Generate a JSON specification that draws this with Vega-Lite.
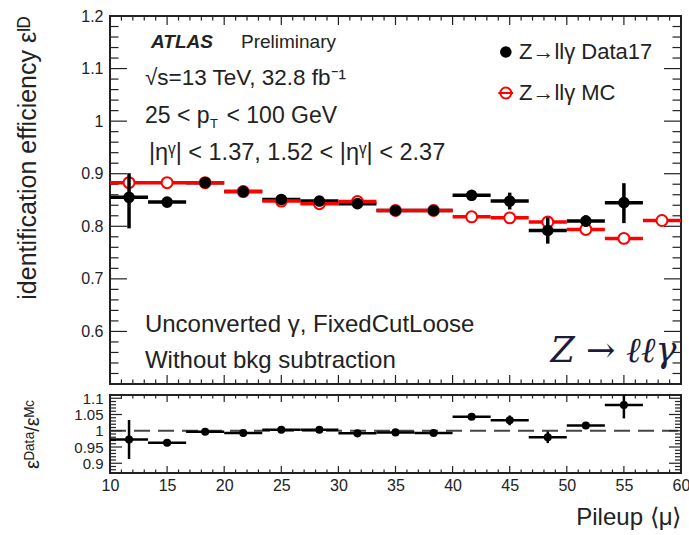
{
  "$schema": "https://vega.github.io/schema/vega-lite/v6.json",
  "padding": {"left": 14, "top": 7, "right": 8, "bottom": 4},
  "background": "white",
  "bounds": "flush",
  "spacing": 11,
  "config": {
    "view": {"stroke": "#222", "strokeWidth": 2},
    "font": "Liberation Sans",
    "axis": {"minExtent": 0, "domain": false, "grid": false, "labelFlush": false, "labelOverlap": false, "labelColor": "#222", "titleColor": "#222", "labelFont": "Liberation Sans", "titleFont": "Liberation Sans", "titleFontWeight": "normal"}
  },
  "datasets": {
    "data17": [
      {"mu": 11.667, "lo": 10, "hi": 13.333, "eff": 0.855, "elo": 0.796, "ehi": 0.901},
      {"mu": 15, "lo": 13.333, "hi": 16.667, "eff": 0.846, "elo": 0.839, "ehi": 0.853},
      {"mu": 18.333, "lo": 16.667, "hi": 20, "eff": 0.883, "elo": 0.877, "ehi": 0.889},
      {"mu": 21.667, "lo": 20, "hi": 23.333, "eff": 0.866, "elo": 0.86, "ehi": 0.872},
      {"mu": 25, "lo": 23.333, "hi": 26.667, "eff": 0.851, "elo": 0.845, "ehi": 0.857},
      {"mu": 28.333, "lo": 26.667, "hi": 30, "eff": 0.848, "elo": 0.842, "ehi": 0.854},
      {"mu": 31.667, "lo": 30, "hi": 33.333, "eff": 0.843, "elo": 0.837, "ehi": 0.849},
      {"mu": 35, "lo": 33.333, "hi": 36.667, "eff": 0.83, "elo": 0.824, "ehi": 0.836},
      {"mu": 38.333, "lo": 36.667, "hi": 40, "eff": 0.83, "elo": 0.823, "ehi": 0.837},
      {"mu": 41.667, "lo": 40, "hi": 43.333, "eff": 0.859, "elo": 0.849, "ehi": 0.869},
      {"mu": 45, "lo": 43.333, "hi": 46.667, "eff": 0.848, "elo": 0.832, "ehi": 0.864},
      {"mu": 48.333, "lo": 46.667, "hi": 50, "eff": 0.792, "elo": 0.767, "ehi": 0.817},
      {"mu": 51.667, "lo": 50, "hi": 53.333, "eff": 0.81, "elo": 0.799, "ehi": 0.821},
      {"mu": 55, "lo": 53.333, "hi": 56.667, "eff": 0.845, "elo": 0.806, "ehi": 0.882}
    ],
    "mc": [
      {"mu": 11.667, "lo": 10, "hi": 13.333, "eff": 0.883},
      {"mu": 15, "lo": 13.333, "hi": 16.667, "eff": 0.883},
      {"mu": 18.333, "lo": 16.667, "hi": 20, "eff": 0.883},
      {"mu": 21.667, "lo": 20, "hi": 23.333, "eff": 0.866},
      {"mu": 25, "lo": 23.333, "hi": 26.667, "eff": 0.848},
      {"mu": 28.333, "lo": 26.667, "hi": 30, "eff": 0.843},
      {"mu": 31.667, "lo": 30, "hi": 33.333, "eff": 0.847},
      {"mu": 35, "lo": 33.333, "hi": 36.667, "eff": 0.83},
      {"mu": 38.333, "lo": 36.667, "hi": 40, "eff": 0.83},
      {"mu": 41.667, "lo": 40, "hi": 43.333, "eff": 0.818},
      {"mu": 45, "lo": 43.333, "hi": 46.667, "eff": 0.816},
      {"mu": 48.333, "lo": 46.667, "hi": 50, "eff": 0.808},
      {"mu": 51.667, "lo": 50, "hi": 53.333, "eff": 0.794},
      {"mu": 55, "lo": 53.333, "hi": 56.667, "eff": 0.777},
      {"mu": 58.333, "lo": 56.667, "hi": 60, "eff": 0.811}
    ],
    "ratio": [
      {"mu": 11.667, "lo": 10, "hi": 13.333, "r": 0.973, "rlo": 0.913, "rhi": 1.033},
      {"mu": 15, "lo": 13.333, "hi": 16.667, "r": 0.963, "rlo": 0.958, "rhi": 0.968},
      {"mu": 18.333, "lo": 16.667, "hi": 20, "r": 0.997, "rlo": 0.992, "rhi": 1.002},
      {"mu": 21.667, "lo": 20, "hi": 23.333, "r": 0.993, "rlo": 0.988, "rhi": 0.998},
      {"mu": 25, "lo": 23.333, "hi": 26.667, "r": 1.003, "rlo": 0.998, "rhi": 1.008},
      {"mu": 28.333, "lo": 26.667, "hi": 30, "r": 1.003, "rlo": 0.998, "rhi": 1.008},
      {"mu": 31.667, "lo": 30, "hi": 33.333, "r": 0.992, "rlo": 0.987, "rhi": 0.997},
      {"mu": 35, "lo": 33.333, "hi": 36.667, "r": 0.995, "rlo": 0.99, "rhi": 1.0},
      {"mu": 38.333, "lo": 36.667, "hi": 40, "r": 0.993, "rlo": 0.988, "rhi": 0.998},
      {"mu": 41.667, "lo": 40, "hi": 43.333, "r": 1.043, "rlo": 1.035, "rhi": 1.051},
      {"mu": 45, "lo": 43.333, "hi": 46.667, "r": 1.032, "rlo": 1.017, "rhi": 1.047},
      {"mu": 48.333, "lo": 46.667, "hi": 50, "r": 0.98, "rlo": 0.962, "rhi": 0.998},
      {"mu": 51.667, "lo": 50, "hi": 53.333, "r": 1.016, "rlo": 1.006, "rhi": 1.026},
      {"mu": 55, "lo": 53.333, "hi": 56.667, "r": 1.079, "rlo": 1.038, "rhi": 1.11}
    ],
    "xmajor": [{"v": 10}, {"v": 15}, {"v": 20}, {"v": 25}, {"v": 30}, {"v": 35}, {"v": 40}, {"v": 45}, {"v": 50}, {"v": 55}, {"v": 60}],
    "xminor": [{"v": 11}, {"v": 12}, {"v": 13}, {"v": 14}, {"v": 16}, {"v": 17}, {"v": 18}, {"v": 19}, {"v": 21}, {"v": 22}, {"v": 23}, {"v": 24}, {"v": 26}, {"v": 27}, {"v": 28}, {"v": 29}, {"v": 31}, {"v": 32}, {"v": 33}, {"v": 34}, {"v": 36}, {"v": 37}, {"v": 38}, {"v": 39}, {"v": 41}, {"v": 42}, {"v": 43}, {"v": 44}, {"v": 46}, {"v": 47}, {"v": 48}, {"v": 49}, {"v": 51}, {"v": 52}, {"v": 53}, {"v": 54}, {"v": 56}, {"v": 57}, {"v": 58}, {"v": 59}],
    "ymajor": [{"v": 0.6}, {"v": 0.7}, {"v": 0.8}, {"v": 0.9}, {"v": 1.0}, {"v": 1.1}],
    "yminor": [{"v": 0.52}, {"v": 0.54}, {"v": 0.56}, {"v": 0.58}, {"v": 0.62}, {"v": 0.64}, {"v": 0.66}, {"v": 0.68}, {"v": 0.72}, {"v": 0.74}, {"v": 0.76}, {"v": 0.78}, {"v": 0.82}, {"v": 0.84}, {"v": 0.86}, {"v": 0.88}, {"v": 0.92}, {"v": 0.94}, {"v": 0.96}, {"v": 0.98}, {"v": 1.02}, {"v": 1.04}, {"v": 1.06}, {"v": 1.08}, {"v": 1.12}, {"v": 1.14}, {"v": 1.16}, {"v": 1.18}],
    "rmajor": [{"v": 0.9}, {"v": 0.95}, {"v": 1.0}, {"v": 1.05}, {"v": 1.1}],
    "rminor": [{"v": 0.88}, {"v": 0.89}, {"v": 0.91}, {"v": 0.92}, {"v": 0.93}, {"v": 0.94}, {"v": 0.96}, {"v": 0.97}, {"v": 0.98}, {"v": 0.99}, {"v": 1.01}, {"v": 1.02}, {"v": 1.03}, {"v": 1.04}, {"v": 1.06}, {"v": 1.07}, {"v": 1.08}, {"v": 1.09}]
  },
  "vconcat": [
    {
      "width": 571,
      "height": 368,
      "resolve": {"axis": {"x": "independent", "y": "independent"}},
      "layer": [
        {
          "data": {"name": "data17"},
          "mark": {"type": "rule", "color": "black", "strokeWidth": 3.5},
          "encoding": {
            "x": {"field": "lo", "type": "quantitative", "scale": {"domain": [10, 60], "nice": false, "zero": false}, "axis": null},
            "x2": {"field": "hi"},
            "y": {"field": "eff", "type": "quantitative", "scale": {"domain": [0.5, 1.2], "nice": false, "zero": false},
              "axis": {"orient": "left", "values": [0.6, 0.7, 0.8, 0.9, 1, 1.1, 1.2], "format": "~g", "ticks": false, "labelFontSize": 16, "labelPadding": 7, "title": "identification efficiency εᴵᴰ", "titleFontSize": 25, "titleAnchor": "end", "titlePadding": 40}}
          }
        },
        {
          "data": {"name": "xmajor"},
          "mark": {"type": "rule", "color": "#222", "strokeWidth": 1.2},
          "encoding": {
            "x": {"field": "v", "type": "quantitative", "scale": {"domain": [10, 60], "nice": false, "zero": false}, "axis": null},
            "y": {"datum": 0.5, "type": "quantitative", "scale": {"domain": [0.5, 1.2], "nice": false, "zero": false}, "axis": null},
            "y2": {"datum": 0.5171}
          }
        },
        {
          "data": {"name": "xminor"},
          "mark": {"type": "rule", "color": "#222", "strokeWidth": 1.2},
          "encoding": {
            "x": {"field": "v", "type": "quantitative", "scale": {"domain": [10, 60], "nice": false, "zero": false}, "axis": null},
            "y": {"datum": 0.5, "type": "quantitative", "scale": {"domain": [0.5, 1.2], "nice": false, "zero": false}, "axis": null},
            "y2": {"datum": 0.5086}
          }
        },
        {
          "data": {"name": "xmajor"},
          "mark": {"type": "rule", "color": "#222", "strokeWidth": 1.2},
          "encoding": {
            "x": {"field": "v", "type": "quantitative", "scale": {"domain": [10, 60], "nice": false, "zero": false}, "axis": null},
            "y": {"datum": 1.2, "type": "quantitative", "scale": {"domain": [0.5, 1.2], "nice": false, "zero": false}, "axis": null},
            "y2": {"datum": 1.1829}
          }
        },
        {
          "data": {"name": "xminor"},
          "mark": {"type": "rule", "color": "#222", "strokeWidth": 1.2},
          "encoding": {
            "x": {"field": "v", "type": "quantitative", "scale": {"domain": [10, 60], "nice": false, "zero": false}, "axis": null},
            "y": {"datum": 1.2, "type": "quantitative", "scale": {"domain": [0.5, 1.2], "nice": false, "zero": false}, "axis": null},
            "y2": {"datum": 1.1914}
          }
        },
        {
          "data": {"name": "ymajor"},
          "mark": {"type": "rule", "color": "#222", "strokeWidth": 1.2},
          "encoding": {
            "y": {"field": "v", "type": "quantitative", "scale": {"domain": [0.5, 1.2], "nice": false, "zero": false}, "axis": null},
            "x": {"datum": 10, "type": "quantitative", "scale": {"domain": [10, 60], "nice": false, "zero": false}, "axis": null},
            "x2": {"datum": 11.489}
          }
        },
        {
          "data": {"name": "yminor"},
          "mark": {"type": "rule", "color": "#222", "strokeWidth": 1.2},
          "encoding": {
            "y": {"field": "v", "type": "quantitative", "scale": {"domain": [0.5, 1.2], "nice": false, "zero": false}, "axis": null},
            "x": {"datum": 10, "type": "quantitative", "scale": {"domain": [10, 60], "nice": false, "zero": false}, "axis": null},
            "x2": {"datum": 10.744}
          }
        },
        {
          "data": {"name": "ymajor"},
          "mark": {"type": "rule", "color": "#222", "strokeWidth": 1.2},
          "encoding": {
            "y": {"field": "v", "type": "quantitative", "scale": {"domain": [0.5, 1.2], "nice": false, "zero": false}, "axis": null},
            "x": {"datum": 60, "type": "quantitative", "scale": {"domain": [10, 60], "nice": false, "zero": false}, "axis": null},
            "x2": {"datum": 58.511}
          }
        },
        {
          "data": {"name": "yminor"},
          "mark": {"type": "rule", "color": "#222", "strokeWidth": 1.2},
          "encoding": {
            "y": {"field": "v", "type": "quantitative", "scale": {"domain": [0.5, 1.2], "nice": false, "zero": false}, "axis": null},
            "x": {"datum": 60, "type": "quantitative", "scale": {"domain": [10, 60], "nice": false, "zero": false}, "axis": null},
            "x2": {"datum": 59.256}
          }
        },
        {
          "data": {"name": "mc"},
          "mark": {"type": "rule", "color": "#ff0000", "strokeWidth": 3.5},
          "encoding": {
            "x": {"field": "lo", "type": "quantitative", "scale": {"domain": [10, 60], "nice": false, "zero": false}, "axis": null},
            "x2": {"field": "hi"},
            "y": {"field": "eff", "type": "quantitative", "scale": {"domain": [0.5, 1.2], "nice": false, "zero": false}, "axis": null}
          }
        },
        {
          "data": {"name": "mc"},
          "mark": {"type": "point", "shape": "circle", "filled": true, "fill": "white", "stroke": "#ff0000", "strokeWidth": 2, "size": 120, "opacity": 1},
          "encoding": {
            "x": {"field": "mu", "type": "quantitative", "scale": {"domain": [10, 60], "nice": false, "zero": false}, "axis": null},
            "y": {"field": "eff", "type": "quantitative", "scale": {"domain": [0.5, 1.2], "nice": false, "zero": false}, "axis": null}
          }
        },
        {
          "data": {"name": "data17"},
          "mark": {"type": "rule", "color": "black", "strokeWidth": 3.5},
          "encoding": {
            "x": {"field": "mu", "type": "quantitative", "scale": {"domain": [10, 60], "nice": false, "zero": false}, "axis": null},
            "y": {"field": "elo", "type": "quantitative", "scale": {"domain": [0.5, 1.2], "nice": false, "zero": false}, "axis": null},
            "y2": {"field": "ehi"}
          }
        },
        {
          "data": {"name": "data17"},
          "mark": {"type": "point", "shape": "circle", "filled": true, "color": "black", "size": 135, "opacity": 1},
          "encoding": {
            "x": {"field": "mu", "type": "quantitative", "scale": {"domain": [10, 60], "nice": false, "zero": false}, "axis": null},
            "y": {"field": "eff", "type": "quantitative", "scale": {"domain": [0.5, 1.2], "nice": false, "zero": false}, "axis": null}
          }
        },
        {
          "data": {"values": [{}]},
          "mark": {"type": "text", "text": "ATLAS", "font": "Liberation Sans", "fontSize": 19, "fontStyle": "italic", "fontWeight": "bold", "align": "left", "baseline": "middle", "color": "#222"},
          "encoding": {
            "x": {"datum": 13.59, "type": "quantitative", "scale": {"domain": [10, 60], "nice": false, "zero": false}, "axis": null},
            "y": {"datum": 1.1505, "type": "quantitative", "scale": {"domain": [0.5, 1.2], "nice": false, "zero": false}, "axis": null}
          }
        },
        {
          "data": {"values": [{}]},
          "mark": {"type": "text", "text": "Preliminary", "font": "Liberation Sans", "fontSize": 19, "align": "left", "baseline": "middle", "color": "#222"},
          "encoding": {
            "x": {"datum": 21.47, "type": "quantitative", "scale": {"domain": [10, 60], "nice": false, "zero": false}, "axis": null},
            "y": {"datum": 1.1505, "type": "quantitative", "scale": {"domain": [0.5, 1.2], "nice": false, "zero": false}, "axis": null}
          }
        },
        {
          "data": {"values": [{}]},
          "mark": {"type": "text", "text": "√s=13 TeV, 32.8 fb⁻¹", "font": "Liberation Sans", "fontSize": 22.5, "align": "left", "baseline": "middle", "color": "#222"},
          "encoding": {
            "x": {"datum": 13.06, "type": "quantitative", "scale": {"domain": [10, 60], "nice": false, "zero": false}, "axis": null},
            "y": {"datum": 1.082, "type": "quantitative", "scale": {"domain": [0.5, 1.2], "nice": false, "zero": false}, "axis": null}
          }
        },
        {
          "data": {"values": [{}]},
          "mark": {"type": "text", "text": "25 < p", "font": "Liberation Sans", "fontSize": 23, "align": "left", "baseline": "middle", "color": "#222"},
          "encoding": {
            "x": {"datum": 13.06, "type": "quantitative", "scale": {"domain": [10, 60], "nice": false, "zero": false}, "axis": null},
            "y": {"datum": 1.0098, "type": "quantitative", "scale": {"domain": [0.5, 1.2], "nice": false, "zero": false}, "axis": null}
          }
        },
        {
          "data": {"values": [{}]},
          "mark": {"type": "text", "text": "T", "font": "Liberation Sans", "fontSize": 13, "align": "left", "baseline": "middle", "color": "#222"},
          "encoding": {
            "x": {"datum": 18.75, "type": "quantitative", "scale": {"domain": [10, 60], "nice": false, "zero": false}, "axis": null},
            "y": {"datum": 0.9955, "type": "quantitative", "scale": {"domain": [0.5, 1.2], "nice": false, "zero": false}, "axis": null}
          }
        },
        {
          "data": {"values": [{}]},
          "mark": {"type": "text", "text": "< 100 GeV", "font": "Liberation Sans", "fontSize": 23, "align": "left", "baseline": "middle", "color": "#222"},
          "encoding": {
            "x": {"datum": 20.2, "type": "quantitative", "scale": {"domain": [10, 60], "nice": false, "zero": false}, "axis": null},
            "y": {"datum": 1.0098, "type": "quantitative", "scale": {"domain": [0.5, 1.2], "nice": false, "zero": false}, "axis": null}
          }
        },
        {
          "data": {"values": [{}]},
          "mark": {"type": "text", "text": "|ηᵞ| < 1.37, 1.52 < |ηᵞ| < 2.37", "font": "Liberation Sans", "fontSize": 23.5, "align": "left", "baseline": "middle", "color": "#222"},
          "encoding": {
            "x": {"datum": 13.41, "type": "quantitative", "scale": {"domain": [10, 60], "nice": false, "zero": false}, "axis": null},
            "y": {"datum": 0.9394, "type": "quantitative", "scale": {"domain": [0.5, 1.2], "nice": false, "zero": false}, "axis": null}
          }
        },
        {
          "data": {"values": [{}]},
          "mark": {"type": "text", "text": "Unconverted γ, FixedCutLoose", "font": "Liberation Sans", "fontSize": 24, "align": "left", "baseline": "middle", "color": "#222"},
          "encoding": {
            "x": {"datum": 13.06, "type": "quantitative", "scale": {"domain": [10, 60], "nice": false, "zero": false}, "axis": null},
            "y": {"datum": 0.6122, "type": "quantitative", "scale": {"domain": [0.5, 1.2], "nice": false, "zero": false}, "axis": null}
          }
        },
        {
          "data": {"values": [{}]},
          "mark": {"type": "text", "text": "Without bkg subtraction", "font": "Liberation Sans", "fontSize": 24, "align": "left", "baseline": "middle", "color": "#222"},
          "encoding": {
            "x": {"datum": 13.06, "type": "quantitative", "scale": {"domain": [10, 60], "nice": false, "zero": false}, "axis": null},
            "y": {"datum": 0.5437, "type": "quantitative", "scale": {"domain": [0.5, 1.2], "nice": false, "zero": false}, "axis": null}
          }
        },
        {
          "data": {"values": [{}]},
          "mark": {"type": "text", "text": "Z → ℓℓγ", "font": "DejaVu Serif", "fontSize": 35, "fontStyle": "italic", "align": "right", "baseline": "alphabetic", "color": "#1c1c3a"},
          "encoding": {
            "x": {"datum": 59.6, "type": "quantitative", "scale": {"domain": [10, 60], "nice": false, "zero": false}, "axis": null},
            "y": {"datum": 0.5418, "type": "quantitative", "scale": {"domain": [0.5, 1.2], "nice": false, "zero": false}, "axis": null}
          }
        },
        {
          "data": {"values": [{}]},
          "mark": {"type": "point", "shape": "circle", "filled": true, "color": "black", "size": 135, "opacity": 1},
          "encoding": {
            "x": {"datum": 44.66, "type": "quantitative", "scale": {"domain": [10, 60], "nice": false, "zero": false}, "axis": null},
            "y": {"datum": 1.1315, "type": "quantitative", "scale": {"domain": [0.5, 1.2], "nice": false, "zero": false}, "axis": null}
          }
        },
        {
          "data": {"values": [{}]},
          "mark": {"type": "rule", "color": "#ff0000", "strokeWidth": 2},
          "encoding": {
            "x": {"datum": 44.0, "type": "quantitative", "scale": {"domain": [10, 60], "nice": false, "zero": false}, "axis": null},
            "x2": {"datum": 45.3},
            "y": {"datum": 1.0535, "type": "quantitative", "scale": {"domain": [0.5, 1.2], "nice": false, "zero": false}, "axis": null}
          }
        },
        {
          "data": {"values": [{}]},
          "mark": {"type": "point", "shape": "circle", "filled": false, "stroke": "#ff0000", "strokeWidth": 2, "size": 120, "opacity": 1},
          "encoding": {
            "x": {"datum": 44.66, "type": "quantitative", "scale": {"domain": [10, 60], "nice": false, "zero": false}, "axis": null},
            "y": {"datum": 1.0535, "type": "quantitative", "scale": {"domain": [0.5, 1.2], "nice": false, "zero": false}, "axis": null}
          }
        },
        {
          "data": {"values": [{}]},
          "mark": {"type": "text", "text": "Z→llγ Data17", "font": "Liberation Sans", "fontSize": 22, "align": "left", "baseline": "middle", "color": "#222"},
          "encoding": {
            "x": {"datum": 45.81, "type": "quantitative", "scale": {"domain": [10, 60], "nice": false, "zero": false}, "axis": null},
            "y": {"datum": 1.1315, "type": "quantitative", "scale": {"domain": [0.5, 1.2], "nice": false, "zero": false}, "axis": null}
          }
        },
        {
          "data": {"values": [{}]},
          "mark": {"type": "text", "text": "Z→llγ MC", "font": "Liberation Sans", "fontSize": 22, "align": "left", "baseline": "middle", "color": "#222"},
          "encoding": {
            "x": {"datum": 45.81, "type": "quantitative", "scale": {"domain": [10, 60], "nice": false, "zero": false}, "axis": null},
            "y": {"datum": 1.0535, "type": "quantitative", "scale": {"domain": [0.5, 1.2], "nice": false, "zero": false}, "axis": null}
          }
        }
      ]
    },
    {
      "width": 571,
      "height": 78,
      "resolve": {"axis": {"x": "independent", "y": "independent"}},
      "layer": [
        {
          "data": {"values": [{}]},
          "mark": {"type": "rule", "color": "#444", "strokeWidth": 2, "strokeDash": [16, 8]},
          "encoding": {
            "x": {"datum": 10, "type": "quantitative", "scale": {"domain": [10, 60], "nice": false, "zero": false},
              "axis": {"orient": "bottom", "values": [10, 15, 20, 25, 30, 35, 40, 45, 50, 55, 60], "format": "d", "ticks": false, "labelFontSize": 16, "labelPadding": 4, "title": "Pileup ⟨μ⟩", "titleFontSize": 24, "titleAnchor": "end", "titlePadding": 12}},
            "x2": {"datum": 60},
            "y": {"datum": 1, "type": "quantitative", "scale": {"domain": [0.87, 1.11], "nice": false, "zero": false},
              "axis": {"orient": "left", "values": [0.9, 0.95, 1, 1.05, 1.1], "format": "~g", "ticks": false, "labelFontSize": 15, "labelPadding": 7, "title": "εᴰᵃᵗᵃ/εᴹᶜ", "titleFontSize": 20, "titlePadding": 31}}
          }
        },
        {
          "data": {"name": "xmajor"},
          "mark": {"type": "rule", "color": "#222", "strokeWidth": 1.2},
          "encoding": {
            "x": {"field": "v", "type": "quantitative", "scale": {"domain": [10, 60], "nice": false, "zero": false}, "axis": null},
            "y": {"datum": 0.87, "type": "quantitative", "scale": {"domain": [0.87, 1.11], "nice": false, "zero": false}, "axis": null},
            "y2": {"datum": 0.8915}
          }
        },
        {
          "data": {"name": "xminor"},
          "mark": {"type": "rule", "color": "#222", "strokeWidth": 1.2},
          "encoding": {
            "x": {"field": "v", "type": "quantitative", "scale": {"domain": [10, 60], "nice": false, "zero": false}, "axis": null},
            "y": {"datum": 0.87, "type": "quantitative", "scale": {"domain": [0.87, 1.11], "nice": false, "zero": false}, "axis": null},
            "y2": {"datum": 0.8808}
          }
        },
        {
          "data": {"name": "xmajor"},
          "mark": {"type": "rule", "color": "#222", "strokeWidth": 1.2},
          "encoding": {
            "x": {"field": "v", "type": "quantitative", "scale": {"domain": [10, 60], "nice": false, "zero": false}, "axis": null},
            "y": {"datum": 1.11, "type": "quantitative", "scale": {"domain": [0.87, 1.11], "nice": false, "zero": false}, "axis": null},
            "y2": {"datum": 1.0885}
          }
        },
        {
          "data": {"name": "xminor"},
          "mark": {"type": "rule", "color": "#222", "strokeWidth": 1.2},
          "encoding": {
            "x": {"field": "v", "type": "quantitative", "scale": {"domain": [10, 60], "nice": false, "zero": false}, "axis": null},
            "y": {"datum": 1.11, "type": "quantitative", "scale": {"domain": [0.87, 1.11], "nice": false, "zero": false}, "axis": null},
            "y2": {"datum": 1.0992}
          }
        },
        {
          "data": {"name": "rmajor"},
          "mark": {"type": "rule", "color": "#222", "strokeWidth": 1.2},
          "encoding": {
            "y": {"field": "v", "type": "quantitative", "scale": {"domain": [0.87, 1.11], "nice": false, "zero": false}, "axis": null},
            "x": {"datum": 10, "type": "quantitative", "scale": {"domain": [10, 60], "nice": false, "zero": false}, "axis": null},
            "x2": {"datum": 11.051}
          }
        },
        {
          "data": {"name": "rminor"},
          "mark": {"type": "rule", "color": "#222", "strokeWidth": 1.2},
          "encoding": {
            "y": {"field": "v", "type": "quantitative", "scale": {"domain": [0.87, 1.11], "nice": false, "zero": false}, "axis": null},
            "x": {"datum": 10, "type": "quantitative", "scale": {"domain": [10, 60], "nice": false, "zero": false}, "axis": null},
            "x2": {"datum": 10.525}
          }
        },
        {
          "data": {"name": "rmajor"},
          "mark": {"type": "rule", "color": "#222", "strokeWidth": 1.2},
          "encoding": {
            "y": {"field": "v", "type": "quantitative", "scale": {"domain": [0.87, 1.11], "nice": false, "zero": false}, "axis": null},
            "x": {"datum": 60, "type": "quantitative", "scale": {"domain": [10, 60], "nice": false, "zero": false}, "axis": null},
            "x2": {"datum": 58.949}
          }
        },
        {
          "data": {"name": "rminor"},
          "mark": {"type": "rule", "color": "#222", "strokeWidth": 1.2},
          "encoding": {
            "y": {"field": "v", "type": "quantitative", "scale": {"domain": [0.87, 1.11], "nice": false, "zero": false}, "axis": null},
            "x": {"datum": 60, "type": "quantitative", "scale": {"domain": [10, 60], "nice": false, "zero": false}, "axis": null},
            "x2": {"datum": 59.475}
          }
        },
        {
          "data": {"name": "ratio"},
          "mark": {"type": "rule", "color": "black", "strokeWidth": 2.5},
          "encoding": {
            "x": {"field": "lo", "type": "quantitative", "scale": {"domain": [10, 60], "nice": false, "zero": false}, "axis": null},
            "x2": {"field": "hi"},
            "y": {"field": "r", "type": "quantitative", "scale": {"domain": [0.87, 1.11], "nice": false, "zero": false}, "axis": null}
          }
        },
        {
          "data": {"name": "ratio"},
          "mark": {"type": "rule", "color": "black", "strokeWidth": 2.5, "clip": true},
          "encoding": {
            "x": {"field": "mu", "type": "quantitative", "scale": {"domain": [10, 60], "nice": false, "zero": false}, "axis": null},
            "y": {"field": "rlo", "type": "quantitative", "scale": {"domain": [0.87, 1.11], "nice": false, "zero": false}, "axis": null},
            "y2": {"field": "rhi"}
          }
        },
        {
          "data": {"name": "ratio"},
          "mark": {"type": "point", "shape": "circle", "filled": true, "color": "black", "size": 65, "opacity": 1},
          "encoding": {
            "x": {"field": "mu", "type": "quantitative", "scale": {"domain": [10, 60], "nice": false, "zero": false}, "axis": null},
            "y": {"field": "r", "type": "quantitative", "scale": {"domain": [0.87, 1.11], "nice": false, "zero": false}, "axis": null}
          }
        }
      ]
    }
  ]
}
